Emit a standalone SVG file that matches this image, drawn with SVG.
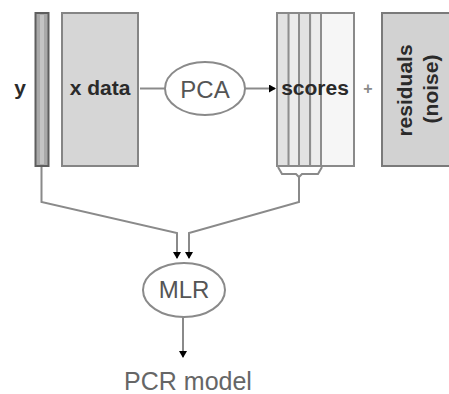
<svg xmlns="http://www.w3.org/2000/svg" width="449" height="394" viewBox="0 0 449 394">
<defs>
<style>
.box{fill:#d6d6d6;stroke:#858585;stroke-width:2}
.conn{fill:none;stroke:#8a8a8a;stroke-width:2}
.ell{fill:#fff;stroke:#8a8a8a;stroke-width:2}
.lbl{font-family:"Liberation Sans",Arial,sans-serif;font-weight:bold;font-size:21px;fill:#2a2a2a}
.op{font-family:"Liberation Sans",Arial,sans-serif;font-size:24px;fill:#555}
</style>
<marker id="ah" markerWidth="8" markerHeight="8" refX="6" refY="4" orient="auto" markerUnits="userSpaceOnUse">
<path d="M0,0 L7,4 L0,8 Z" fill="#000"/>
</marker>
</defs>
<rect width="449" height="394" fill="#fff"/>
<g id="y">
<rect x="35.5" y="13" width="13" height="153" fill="#a9a9a9" stroke="#5e5e5e" stroke-width="2"/>
<rect x="40" y="15" width="4" height="149" fill="#c4c4c4"/>
<text class="lbl" x="20" y="95" text-anchor="middle">y</text>
</g>
<g id="xdata">
<rect class="box" x="62" y="13" width="76" height="153"/>
<text class="lbl" x="100" y="95" text-anchor="middle">x data</text>
</g>
<g id="pca">
<ellipse class="ell" cx="205" cy="88.5" rx="40" ry="26.5"/>
<text class="op" x="205" y="98" text-anchor="middle">PCA</text>
</g>
<g id="scores">
<rect x="277" y="13" width="77" height="153" fill="#f6f6f6" stroke="#8a8a8a" stroke-width="2"/>
<rect x="278" y="14" width="42" height="151" fill="#e2e2e2"/>
<rect x="290" y="14" width="8" height="151" fill="#ececec"/>
<rect x="312" y="14" width="8" height="151" fill="#ececec"/>
<g stroke="#8e8e8e" stroke-width="2">
<line x1="288.5" y1="14" x2="288.5" y2="165"/>
<line x1="299" y1="14" x2="299" y2="165"/>
<line x1="310" y1="14" x2="310" y2="165"/>
<line x1="321" y1="14" x2="321" y2="165"/>
</g>
<text class="lbl" x="315" y="95" text-anchor="middle">scores</text>
</g>
<g id="plus">
<text x="368" y="94" text-anchor="middle" font-family="Liberation Sans, Arial, sans-serif" font-weight="bold" font-size="16" fill="#8a8a8a">+</text>
</g>
<g id="residuals">
<rect x="382" y="13" width="80" height="153" fill="#d2d2d2" stroke="#7a7a7a" stroke-width="2"/>
<text class="lbl" transform="translate(412,90.5) rotate(-90)" text-anchor="middle">residuals</text>
<text class="lbl" transform="translate(438,89) rotate(-90)" text-anchor="middle">(noise)</text>
</g>
<g id="mlr">
<ellipse class="ell" cx="184" cy="290" rx="41" ry="27"/>
<text class="op" x="184" y="298" text-anchor="middle">MLR</text>
</g>
<g id="pcrmodel">
<text x="188" y="390" text-anchor="middle" font-family="Liberation Sans, Arial, sans-serif" font-size="25" fill="#666">PCR model</text>
</g>
<g id="connectors">
<line class="conn" x1="140" y1="88.5" x2="165" y2="88.5"/>
<line class="conn" x1="245" y1="88.5" x2="275" y2="88.5" marker-end="url(#ah)"/>
<path class="conn" d="M278,167 L282,174 L296,174 L299,177 L302,174 L318,174 L322,167"/>
<path class="conn" d="M41.5,167 L41.5,202 L177,233 L177,258" marker-end="url(#ah)"/>
<path class="conn" d="M299,177 L299,202 L189,233 L189,258" marker-end="url(#ah)"/>
<line class="conn" x1="183" y1="317" x2="183" y2="357" marker-end="url(#ah)"/>
</g>
</svg>
